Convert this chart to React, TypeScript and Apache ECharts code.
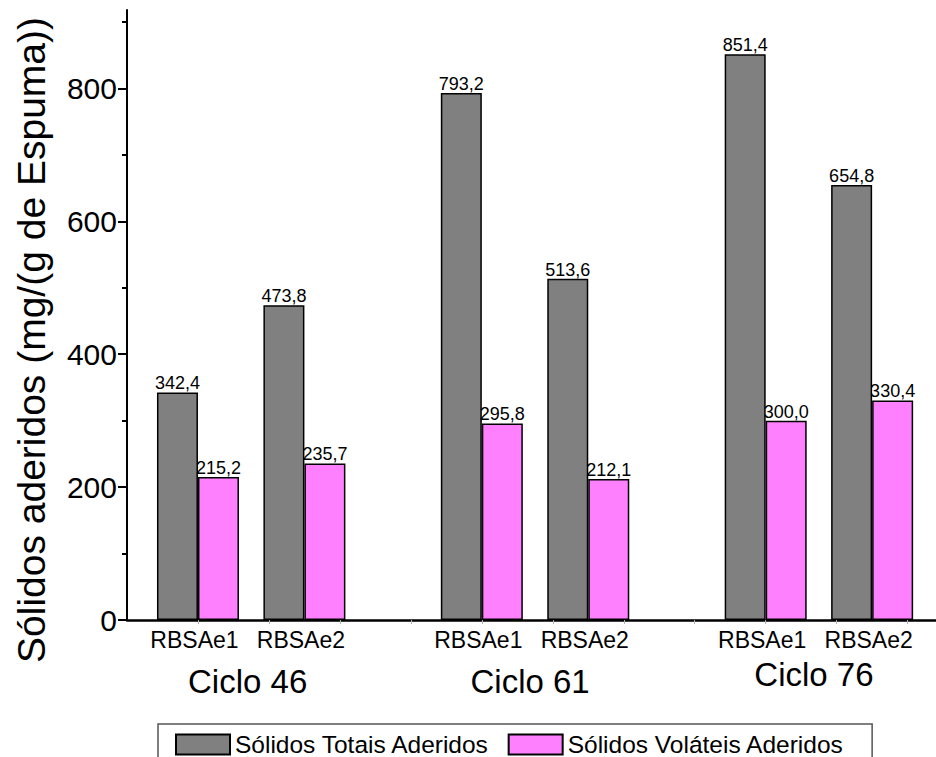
import React, { useEffect, useRef } from "react";
import * as echarts from "echarts";

const categories = ["RBSAe1", "RBSAe2", "RBSAe1", "RBSAe2", "RBSAe1", "RBSAe2"];
const barPositions = [1, 2.5, 5, 6.5, 9, 10.5];
const cycles = ["Ciclo 46", "Ciclo 61", "Ciclo 76"];
const cyclePositions = [1.7, 5.68, 9.68];
const totais = [342.4, 473.8, 793.2, 513.6, 851.4, 654.8];
const volateis = [215.2, 235.7, 295.8, 212.1, 300.0, 330.4];
const yTicks = [0, 200, 400, 600, 800];
const yMinorTicks = [100, 300, 500, 700, 900];
const xTicks = [1, 2, 3, 4, 5, 6, 7, 8, 9, 10, 11];
const seriesNames = ["Sólidos Totais Aderidos", "Sólidos Voláteis Aderidos"];
const yTitle = "Sólidos aderidos (mg/(g de Espuma))";

const FONT = "Liberation Sans, Arial, sans-serif";
const fmt = (v: number) => v.toFixed(1).replace(".", ",");
const findIdx = (arr: number[], v: number) => arr.findIndex((p) => Math.abs(p - v) < 1e-6);

export default function App() {
  const ref = useRef<HTMLDivElement>(null);
  useEffect(() => {
    if (!ref.current) return;
    const chart = echarts.init(ref.current, undefined, { renderer: "svg" });
    const X_MAX = 11.4;
    const Y_MAX = 918;
    const labelStyle = {
      show: true,
      position: "top",
      distance: 0,
      fontSize: 18,
      color: "#000",
      fontFamily: FONT,
      formatter: (p: any) => fmt(p.value[1]),
    };
    chart.setOption({
      animation: false,
      backgroundColor: "#fff",
      textStyle: { fontFamily: FONT },
      grid: { left: 127, right: 0, top: 10, bottom: 137, containLabel: false, outerBoundsMode: "none" },
      legend: {
        show: true,
        left: 158,
        top: 724,
        orient: "horizontal",
        icon: "rect",
        itemWidth: 54,
        itemHeight: 20,
        itemGap: 18,
        padding: [8, 28, 8, 17],
        borderColor: "#555",
        borderWidth: 1.5,
        textStyle: { fontSize: 24.5, color: "#000", fontFamily: FONT },
        data: seriesNames,
      },
      xAxis: [
        {
          type: "value",
          min: 0,
          max: X_MAX,
          position: "bottom",
          axisLine: { show: true, onZero: false, lineStyle: { color: "#000", width: 2.5 } },
          axisTick: { show: true, customValues: xTicks, length: 4, lineStyle: { color: "#b0b0b0", width: 1 } },
          axisLabel: {
            customValues: barPositions,
            formatter: (v: number) => {
              const i = findIdx(barPositions, v);
              return i >= 0 ? categories[i] : "";
            },
            fontSize: 23,
            color: "#000",
            margin: 8,
            padding: [0, 7, 0, 0],
            fontFamily: FONT,
          },
          splitLine: { show: false },
        },
        {
          type: "value",
          min: 0,
          max: X_MAX,
          position: "bottom",
          offset: 0,
          axisLine: { show: false },
          axisTick: { show: false },
          axisLabel: {
            customValues: cyclePositions,
            formatter: (v: number) => {
              const i = findIdx(cyclePositions, v);
              if (i < 0) return "";
              return i === 2 ? `{q|${cycles[i]}}` : `{p|${cycles[i]}}`;
            },
            margin: 38,
            color: "#000",
            fontFamily: FONT,
            rich: {
              p: { fontSize: 33, color: "#000", fontFamily: FONT, padding: [7, 0, 0, 0] },
              q: { fontSize: 33, color: "#000", fontFamily: FONT },
            },
          },
          splitLine: { show: false },
        },
      ],
      yAxis: [
        {
          type: "value",
          min: 0,
          max: Y_MAX,
          position: "left",
          axisLine: { show: true, lineStyle: { color: "#000", width: 2 } },
          axisTick: { show: true, customValues: yTicks, length: 9, lineStyle: { color: "#000", width: 2 } },
          axisLabel: { customValues: yTicks, fontSize: 30, margin: 10, color: "#000", fontFamily: FONT },
          splitLine: { show: false },
          name: yTitle,
          nameLocation: "middle",
          nameGap: 76,
          nameTextStyle: { fontSize: 39, color: "#000", fontFamily: FONT, padding: [0, 50, 0, 0] },
        },
        {
          type: "value",
          min: 0,
          max: Y_MAX,
          position: "left",
          offset: 0,
          axisLine: { show: false },
          axisTick: { show: true, customValues: yMinorTicks, length: 5, lineStyle: { color: "#000", width: 2 } },
          axisLabel: { show: false },
          splitLine: { show: false },
        },
      ],
      series: [
        {
          type: "bar",
          name: seriesNames[0],
          xAxisIndex: 0,
          yAxisIndex: 0,
          data: barPositions.map((p, i) => [p, totais[i]]),
          barWidth: 41,
          barGap: "0%",
          itemStyle: { color: "#808080", borderColor: "#000", borderWidth: 1.5 },
          label: labelStyle,
        },
        {
          type: "bar",
          name: seriesNames[1],
          xAxisIndex: 0,
          yAxisIndex: 0,
          data: barPositions.map((p, i) => [p, volateis[i]]),
          barWidth: 41,
          barGap: "0%",
          itemStyle: { color: "#ff80ff", borderColor: "#000", borderWidth: 1.5 },
          label: labelStyle,
        },
      ],
    });
    return () => chart.dispose();
  }, []);
  return (
    <div
      ref={ref}
      style={{ position: "absolute", left: 0, top: 0, width: 936, height: 757, background: "#fff" }}
    />
  );
}
